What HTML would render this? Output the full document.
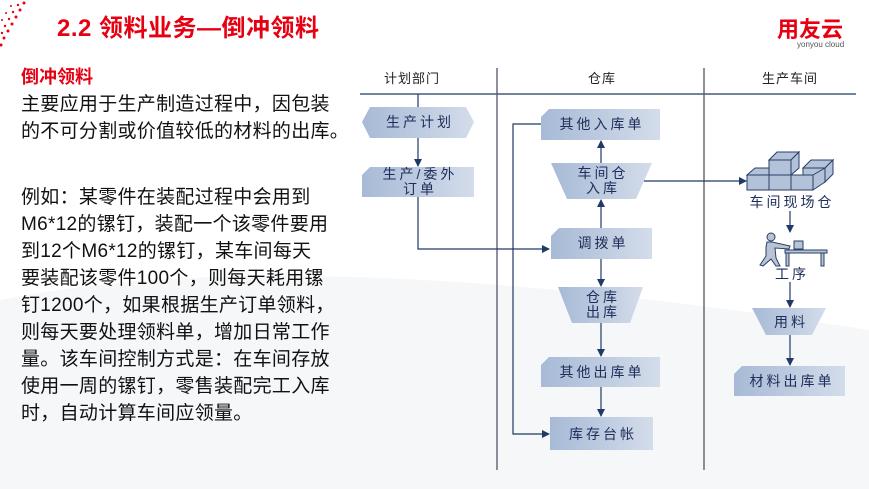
<!DOCTYPE html>
<html><head><meta charset="utf-8"><style>
body{margin:0;width:869px;height:489px;overflow:hidden;background:#fff;font-family:"Liberation Sans","Noto Sans CJK SC",sans-serif;position:relative}
.t{position:absolute;left:21px;font-size:19px;color:#111;white-space:nowrap;line-height:27px;letter-spacing:0.3px}
</style></head><body>
<svg width="869" height="489" style="position:absolute;left:0;top:0">
<defs>
<linearGradient id="g" x1="0" x2="1" y1="0" y2="0"><stop offset="0" stop-color="#a7bad6"/><stop offset="1" stop-color="#d3dcea"/></linearGradient>
<marker id="a" markerWidth="8" markerHeight="8" refX="7" refY="4" orient="auto" markerUnits="userSpaceOnUse"><path d="M0,0 L8,4 L0,8 Z" fill="#1f3a66"/></marker>
</defs>
<path d="M0,300 Q300,240 869,330 L869,489 L0,489 Z" fill="#f6f7f9"/>
<g fill="#e60012">
<circle cx="24" cy="3" r="1.5"/><circle cx="20" cy="10" r="1.5"/><circle cx="16" cy="17" r="1.5"/><circle cx="12" cy="24" r="1.5"/><circle cx="8" cy="31" r="1.5"/><circle cx="4" cy="38" r="1.5"/><circle cx="1" cy="45" r="1.5"/>
<circle cx="18" cy="5" r="1.2"/><circle cx="13" cy="12" r="1.2"/><circle cx="9" cy="19" r="1.2"/><circle cx="5" cy="26" r="1.2"/><circle cx="2" cy="33" r="1.2"/>
<circle cx="11" cy="6" r="1"/><circle cx="6" cy="13" r="1"/><circle cx="2" cy="20" r="1"/>
</g>
<text x="57" y="36" font-size="24" font-weight="bold" fill="#e60012" letter-spacing="0.5">2.2 领料业务—倒冲领料</text>
<text x="777" y="37" font-size="22" font-weight="bold" fill="#e60012">用友云</text>
<text x="797" y="47" font-size="8" fill="#555">yonyou cloud</text>

<g stroke="#1f3a66" stroke-width="1.3" fill="none">
<line x1="360" y1="94" x2="856" y2="94"/>
<line x1="497" y1="68" x2="497" y2="470" stroke="#556"/>
<line x1="704" y1="68" x2="704" y2="470" stroke="#556"/>
</g>
<g font-size="13" fill="#222" text-anchor="middle" letter-spacing="1">
<text x="412" y="83">计划部门</text><text x="602" y="83">仓库</text><text x="790" y="83">生产车间</text>
</g>

<g fill="url(#g)">
<polygon points="370,107 466,107 474,122 466,138 370,138 362,122"/>
<polygon points="370,167 474,167 474,197 362,197 362,175"/>
<polygon points="549,109 660,109 660,140 541,140 541,117"/>
<polygon points="551,163 652,163 636,199 567,199"/>
<polygon points="559,228 652,228 652,259 551,259 551,236"/>
<polygon points="558,287 643,287 630,323 572,323"/>
<polygon points="549,357 660,357 660,387 541,387 541,365"/>
<rect x="550" y="417" width="103" height="33"/>
<polygon points="752,308 826,308 812,335 766,335"/>
<polygon points="742,366 845,366 845,396 734,396 734,374"/>
</g>
<g font-size="14" fill="#1f2d5a" text-anchor="middle" letter-spacing="3">
<text x="420" y="127">生产计划</text>
<text x="420" y="179">生产/委外</text><text x="420" y="194">订单</text>
<text x="602" y="129">其他入库单</text>
<text x="603" y="178">车间仓</text><text x="603" y="193">入库</text>
<text x="603" y="248">调拨单</text>
<text x="603" y="302">仓库</text><text x="603" y="317">出库</text>
<text x="602" y="377">其他出库单</text>
<text x="603" y="439">库存台帐</text>
<text x="792" y="207">车间现场仓</text>
<text x="792" y="279">工序</text>
<text x="791" y="327">用料</text>
<text x="792" y="386">材料出库单</text>
</g>

<g stroke="#1f3a66" stroke-width="1.2" fill="none">
<line x1="418" y1="94" x2="418" y2="107"/>
<line x1="418" y1="138" x2="418" y2="166" marker-end="url(#a)"/>
<polyline points="418,197 418,249 549,249" marker-end="url(#a)"/>
<line x1="601" y1="228" x2="601" y2="200" marker-end="url(#a)"/>
<line x1="601" y1="163" x2="601" y2="141" marker-end="url(#a)"/>
<polyline points="541,124 513,124 513,434 549,434" marker-end="url(#a)"/>
<line x1="601" y1="259" x2="601" y2="286" marker-end="url(#a)"/>
<line x1="601" y1="323" x2="601" y2="356" marker-end="url(#a)"/>
<line x1="601" y1="387" x2="601" y2="416" marker-end="url(#a)"/>
<line x1="644" y1="181" x2="746" y2="181" marker-end="url(#a)"/>
<line x1="790" y1="211" x2="790" y2="232" marker-end="url(#a)"/>
<line x1="790" y1="282" x2="790" y2="307" marker-end="url(#a)"/>
<line x1="790" y1="335" x2="790" y2="365" marker-end="url(#a)"/>
</g>

<g fill="#b3c2d8" stroke="#2a3f66" stroke-width="1">
<polygon points="803,168 811,160 833,160 825,168"/><rect x="803" y="168" width="22" height="14"/>
<polygon points="825,168 833,160 833,174 825,182"/>
<polygon points="747,175 755,168 777,168 769,175"/>
<rect x="747" y="175" width="22" height="15"/><rect x="769" y="175" width="22" height="15"/><rect x="791" y="175" width="22" height="15"/>
<polygon points="813,175 825,168 825,182 813,190"/>
<polygon points="769,160 777,152 799,152 791,160"/><rect x="769" y="160" width="22" height="15"/>
<polygon points="791,160 799,152 799,168 791,175"/>
</g>
<g fill="#b8c4d6" stroke="#2a3f66" stroke-width="1">
<circle cx="771" cy="237" r="4"/>
<path d="M767,242 L772,242 L790,246 L789,249 L775,248 L776,258 L780,266 L776,266 L771,259 L763,266 L760,265 L766,256 L766,247 Z"/>
<rect x="794" y="241" width="9" height="8"/>
<rect x="785" y="250" width="42" height="3"/>
<rect x="786" y="253" width="3" height="13"/><rect x="821" y="253" width="3" height="13"/>
</g>
</svg>
<div style="position:absolute;left:21px;top:63px;font-size:18px;font-weight:bold;color:#e60012">倒冲领料</div>
<div class="t" style="top:91px">主要应用于生产制造过程中，因包装</div>
<div class="t" style="top:118px">的不可分割或价值较低的材料的出库。</div>
<div class="t" style="top:184px">例如：某零件在装配过程中会用到</div>
<div class="t" style="top:211px">M6*12的镙钉，装配一个该零件要用</div>
<div class="t" style="top:238px">到12个M6*12的镙钉，某车间每天</div>
<div class="t" style="top:265px">要装配该零件100个，则每天耗用镙</div>
<div class="t" style="top:292px">钉1200个，如果根据生产订单领料，</div>
<div class="t" style="top:319px">则每天要处理领料单，增加日常工作</div>
<div class="t" style="top:346px">量。该车间控制方式是：在车间存放</div>
<div class="t" style="top:373px">使用一周的镙钉，零售装配完工入库</div>
<div class="t" style="top:400px">时，自动计算车间应领量。</div>
</body></html>
